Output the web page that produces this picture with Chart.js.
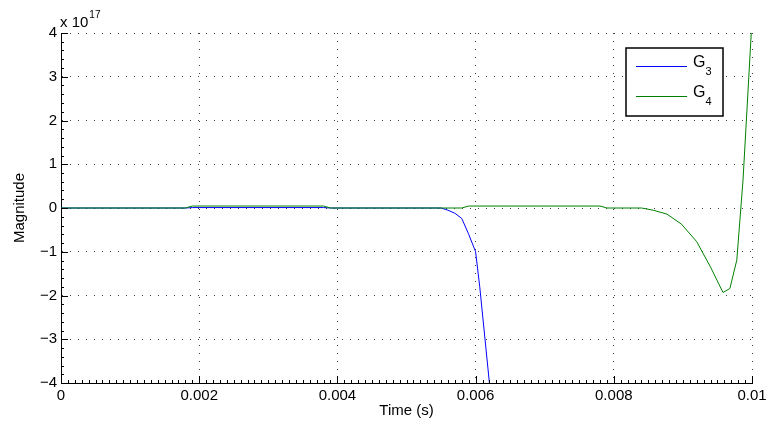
<!DOCTYPE html>
<html>
<head>
<meta charset="utf-8">
<script src="https://cdn.jsdelivr.net/npm/chart.js@4.4.0/dist/chart.umd.min.js"></script>
<style>
  html, body { margin: 0; padding: 0; background: #fff; }
  #wrap { width: 767px; height: 428px; }
</style>
</head>
<body>
<div id="wrap"><canvas id="myChart" width="767" height="428"></canvas></div>
<script>
// values are in units of 1e17
var seriesNames = ['G3', 'G4'];
var timeG3 = [0, 0.0018, 0.0019, 0.0038, 0.0039, 0.0055, 0.0056, 0.0057, 0.0058, 0.0059, 0.006, 0.00606, 0.0062, 0.0063];
var valuesG3 = [0, 0, 0.01, 0.01, 0, 0, -0.05, -0.12, -0.24, -0.6, -1.0, -1.8, -4.0, -5.5];
var timeG4 = [0, 0.0018, 0.0019, 0.0038, 0.0039, 0.0058, 0.0059, 0.0078, 0.0079, 0.0084, 0.00857, 0.00877, 0.00898, 0.0092, 0.0094, 0.00958, 0.00968, 0.00978, 0.00987, 0.01];
var valuesG4 = [0, 0, 0.045, 0.045, 0, 0, 0.045, 0.045, 0, 0, -0.05, -0.14, -0.37, -0.77, -1.35, -1.93, -1.84, -1.19, 0.64, 4.3];
var xTicks = [0, 0.002, 0.004, 0.006, 0.008, 0.01];
var yTicks = [-4, -3, -2, -1, 0, 1, 2, 3, 4];
var exponentLabel = ['x 10', '17'];

var FONT = '"Liberation Sans", Arial, Helvetica, sans-serif';

function toPoints(xs, ys) {
    return xs.map(function(x, i) { return { x: x, y: ys[i] }; });
}

// draws inward major/minor ticks, the exponent and the boxed legend
var matlabPlugin = {
    id: 'matlabDecor',
    afterDatasetsDraw: function(chart) {
        var ctx = chart.ctx;
        var area = chart.chartArea;
        var xs = chart.scales.x, ys = chart.scales.y;
        ctx.save();
        ctx.strokeStyle = '#000';
        ctx.lineWidth = 1;
        ctx.beginPath();
        // x minor ticks
        for (var i = 0; i <= 100; i++) {
            var px = Math.round(xs.getPixelForValue(i * 0.0001)) + 0.5;
            var len = (i % 20 === 0) ? 7 : 3;
            ctx.moveTo(px, area.bottom);
            ctx.lineTo(px, area.bottom - len);
        }
        // y minor ticks
        for (var j = 0; j <= 40; j++) {
            var v = -4 + j * 0.2;
            var py = Math.round(ys.getPixelForValue(v)) + 0.5;
            var l2 = (j % 5 === 0) ? 7 : 3;
            ctx.moveTo(area.left, py);
            ctx.lineTo(area.left + l2, py);
        }
        ctx.stroke();

        // exponent
        ctx.fillStyle = '#000';
        ctx.textBaseline = 'alphabetic';
        ctx.textAlign = 'left';
        ctx.font = '15px ' + FONT;
        ctx.fillText(exponentLabel[0], area.left - 1, area.top - 6);
        var w = ctx.measureText(exponentLabel[0]).width;
        ctx.font = '10px ' + FONT;
        ctx.fillText(exponentLabel[1], area.left - 1 + w + 1, area.top - 15);

        // legend
        var bx = 626, by = 48, bw = 97, bh = 68;
        ctx.fillStyle = '#fff';
        ctx.fillRect(bx, by, bw, bh);
        ctx.lineWidth = 1.5;
        ctx.strokeStyle = '#000';
        ctx.strokeRect(bx, by, bw, bh);
        chart.data.datasets.forEach(function(ds, k) {
            var ly = by + 18 + k * 30;
            ctx.beginPath();
            ctx.strokeStyle = ds.borderColor;
            ctx.lineWidth = 1;
            ctx.moveTo(bx + 10, ly + 0.5);
            ctx.lineTo(bx + 61, ly + 0.5);
            ctx.stroke();
            ctx.fillStyle = '#000';
            ctx.font = '16px ' + FONT;
            var name = seriesNames[k];
            ctx.fillText(name.charAt(0), bx + 67, ly + 1);
            var gw = ctx.measureText(name.charAt(0)).width;
            ctx.font = '11px ' + FONT;
            ctx.fillText(name.slice(1), bx + 67 + gw, ly + 9);
        });
        ctx.restore();
    }
};

var ctx = document.getElementById('myChart').getContext('2d');
var myChart = new Chart(ctx, {
    type: 'line',
    data: {
        datasets: [{
            label: seriesNames[0],
            data: toPoints(timeG3, valuesG3),
            borderColor: 'rgb(0,0,255)',
            borderWidth: 1,
            pointRadius: 0,
            fill: false,
            tension: 0,
            order: 2
        }, {
            label: seriesNames[1],
            data: toPoints(timeG4, valuesG4),
            borderColor: 'rgb(0,128,0)',
            borderWidth: 1,
            pointRadius: 0,
            fill: false,
            tension: 0,
            order: 1
        }]
    },
    options: {
        responsive: false,
        animation: false,
        events: [],
        layout: { padding: { top: 33, right: 15, left: 0, bottom: 0 } },
        plugins: {
            legend: { display: false },
            tooltip: { enabled: false }
        },
        scales: {
            x: {
                type: 'linear',
                min: 0,
                max: 0.01,
                afterFit: function(s) {
                    s.height = 45;
                    s.paddingLeft = 0;
                    s.paddingRight = 0;
                },
                afterBuildTicks: function(s) { s.ticks = xTicks.map(function(v) { return { value: v }; }); },
                ticks: {
                    color: '#000',
                    font: { family: FONT, size: 15 },
                    padding: 4,
                    maxRotation: 0,
                    callback: function(v) { return String(Number(v.toFixed(4))); }
                },
                grid: {
                    drawTicks: false,
                    color: 'rgba(0,0,0,0.75)',
                    lineWidth: 1
                },
                border: { display: true, color: '#000', width: 1, dash: [1, 7] },
                title: {
                    display: true,
                    text: 'Time (s)',
                    color: '#000',
                    font: { family: FONT, size: 15 },
                    padding: { top: 0, bottom: 8 }
                }
            },
            y: {
                type: 'linear',
                min: -4,
                max: 4,
                afterFit: function(s) {
                    s.width = 61;
                    s.paddingTop = 0;
                    s.paddingBottom = 0;
                },
                afterBuildTicks: function(s) { s.ticks = yTicks.map(function(v) { return { value: v }; }); },
                ticks: {
                    color: '#000',
                    font: { family: FONT, size: 15 },
                    padding: 4,
                    callback: function(v) { return v < 0 ? '\u2212' + Math.abs(v) : String(v); }
                },
                grid: {
                    drawTicks: false,
                    color: 'rgba(0,0,0,0.75)',
                    lineWidth: 1
                },
                border: { display: true, color: '#000', width: 1, dash: [1, 7] },
                title: {
                    display: true,
                    text: 'Magnitude',
                    color: '#000',
                    font: { family: FONT, size: 15 },
                    padding: { top: 11, bottom: 0 }
                }
            }
        }
    },
    plugins: [matlabPlugin]
});
</script>
</body>
</html>
